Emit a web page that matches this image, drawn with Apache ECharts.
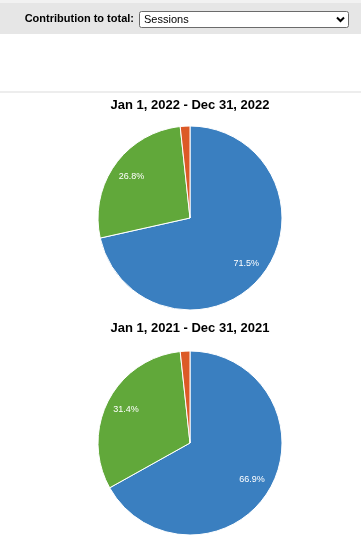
<!DOCTYPE html>
<html><head><meta charset="utf-8">
<script src="https://cdn.jsdelivr.net/npm/echarts@6/dist/echarts.min.js"></script>
<style>html,body{margin:0;padding:0;background:#fff}#c{width:361px;height:549px}</style>
</head><body><div id="c"></div>
<script>
const categories = ['Blue segment', 'Green segment', 'Orange segment'];
const sessions2022 = [71.5, 26.8, 1.7];
const sessions2021 = [66.9, 31.4, 1.7];
const titles = ['Jan 1, 2022 - Dec 31, 2022', 'Jan 1, 2021 - Dec 31, 2021'];
const colors = ['#3a7fc0', '#61a83a', '#dc5a27'];

const chart = echarts.init(document.getElementById('c'), null, {renderer: 'canvas'});
const F = 'Liberation Sans, Arial, sans-serif';

function data(vals){ return vals.map((v,i)=>({name: categories[i], value: v})); }

function pieSeries(vals, cy){
  return [{
    type: 'pie', center: [190, cy], radius: [0, 92], startAngle: 90, clockwise: true,
    animation: false, silent: true,
    itemStyle: {borderColor: '#fff', borderWidth: 1},
    label: {show: false}, labelLine: {show: false},
    data: data(vals)
  },{
    type: 'pie', center: [190, cy], radius: [46, 92], startAngle: 90, clockwise: true,
    animation: false, silent: true,
    itemStyle: {color: 'rgba(0,0,0,0)', borderWidth: 0},
    label: {show: true, position: 'inside', color: '#fff', fontSize: 9, fontFamily: F,
      formatter: p => p.percent < 5 ? '' : p.value.toFixed(1) + '%'},
    labelLine: {show: false},
    data: data(vals)
  }];
}

chart.setOption({
  color: colors,
  graphic: [
    {type: 'rect', shape: {x: 0, y: 0, width: 361, height: 3}, style: {fill: '#f2f2f2'}, silent: true},
    {type: 'rect', shape: {x: 0, y: 3, width: 361, height: 31}, style: {fill: '#e6e6e6'}, silent: true},
    {type: 'text', x: 134, y: 19, style: {text: 'Contribution to total:', font: 'bold 11px ' + F, fill: '#000', textAlign: 'right', textVerticalAlign: 'middle'}},
    {type: 'rect', shape: {x: 139.5, y: 11.5, width: 209, height: 16, r: 2}, style: {fill: '#fff', stroke: '#6b6b6b', lineWidth: 1}},
    {type: 'text', x: 144, y: 19.5, style: {text: 'Sessions', font: '11px ' + F, fill: '#000', textVerticalAlign: 'middle'}},
    {type: 'polyline', shape: {points: [[337, 17.5], [340.5, 21], [344, 17.5]]}, style: {stroke: '#000', lineWidth: 2, fill: null}},
    {type: 'rect', shape: {x: 0, y: 91.5, width: 361, height: 1}, style: {fill: '#dcdcdc'}, silent: true},
    {type: 'text', x: 190, y: 105, style: {text: titles[0], font: 'bold 13px ' + F, fill: '#000', textAlign: 'center', textVerticalAlign: 'middle'}},
    {type: 'text', x: 190, y: 328, style: {text: titles[1], font: 'bold 13px ' + F, fill: '#000', textAlign: 'center', textVerticalAlign: 'middle'}}
  ],
  series: [...pieSeries(sessions2022, 218), ...pieSeries(sessions2021, 443)]
});
</script></body></html>
